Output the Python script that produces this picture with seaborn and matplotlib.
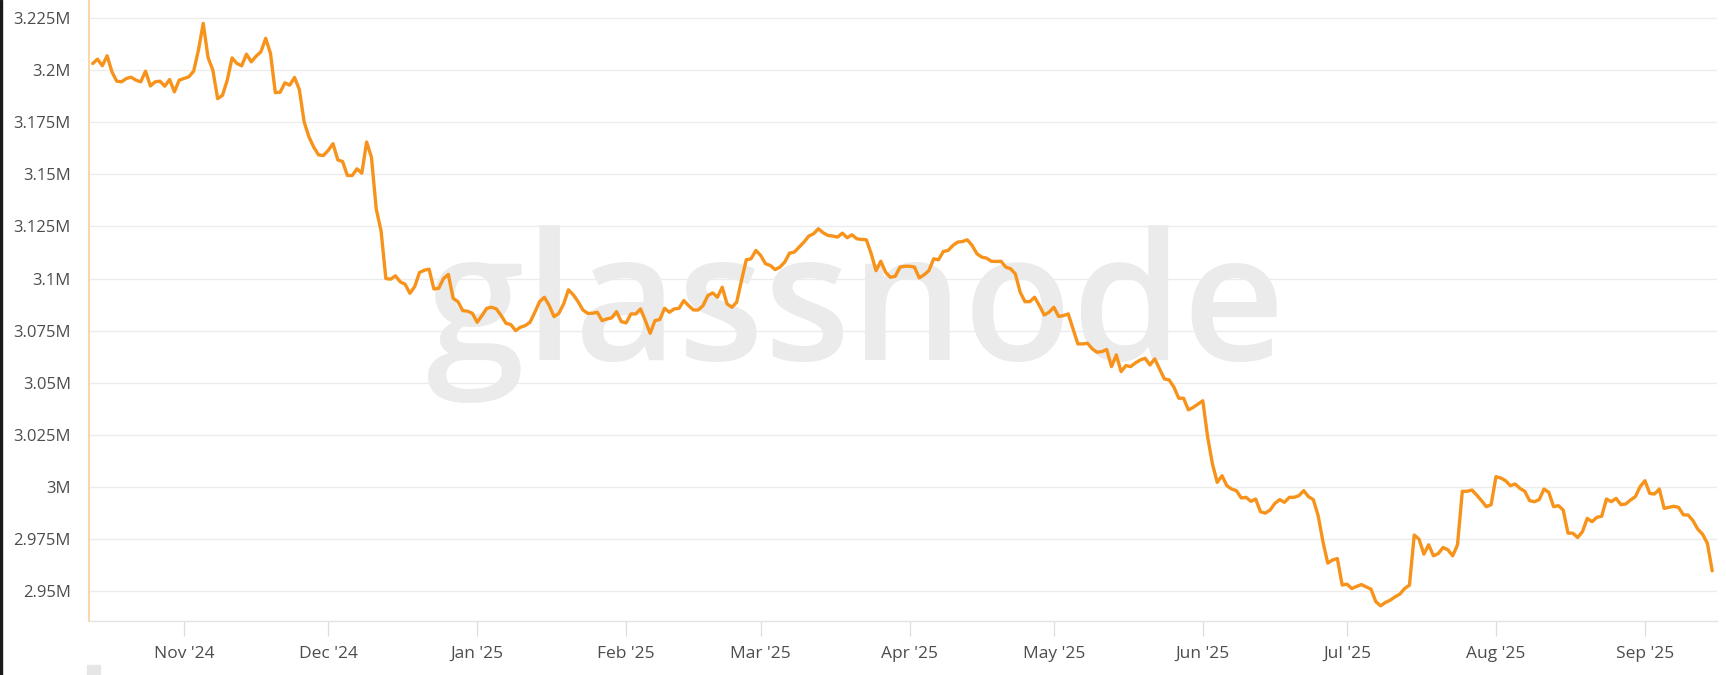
import matplotlib
matplotlib.use("Agg")
import matplotlib.pyplot as plt
import matplotlib.dates as mdates
from matplotlib.ticker import MultipleLocator, FuncFormatter
from matplotlib.patches import Rectangle
import seaborn as sns
import pandas as pd
import numpy as np

# Daily values in millions, starting 2024-10-13
start_date = "2024-10-13"
vals_oct24 = [3.2033, 3.2054, 3.2022, 3.2070, 3.1993, 3.1948, 3.1945, 3.1961, 3.1967, 3.1953,
              3.1945, 3.1996, 3.1925, 3.1945, 3.1948, 3.1924, 3.1956, 3.1897, 3.1953]
vals_nov24 = [3.1961, 3.1969, 3.1996, 3.2097, 3.2226, 3.2062, 3.2001, 3.1864, 3.1880, 3.1953,
              3.2060, 3.2033, 3.2022, 3.2078, 3.2041, 3.2068, 3.2089, 3.2154, 3.2081, 3.1893,
              3.1895, 3.1940, 3.1929, 3.1966, 3.1908, 3.1752, 3.1680, 3.1631, 3.1594, 3.1591]
vals_dec24 = [3.1615, 3.1648, 3.1570, 3.1562, 3.1495, 3.1495, 3.1527, 3.1506, 3.1656, 3.1583,
              3.1334, 3.1230, 3.1000, 3.0997, 3.1013, 3.0984, 3.0973, 3.0929, 3.0961, 3.1029,
              3.1040, 3.1045, 3.0950, 3.0953, 3.1000, 3.1020, 3.0905, 3.0889, 3.0846, 3.0843,
              3.0833]
vals_jan25 = [3.0790, 3.0822, 3.0857, 3.0862, 3.0854, 3.0822, 3.0785, 3.0779, 3.0750, 3.0766,
              3.0774, 3.0790, 3.0838, 3.0889, 3.0910, 3.0870, 3.0817, 3.0833, 3.0878, 3.0946,
              3.0922, 3.0889, 3.0849, 3.0833, 3.0833, 3.0838, 3.0798, 3.0806, 3.0811, 3.0841,
              3.0793]
vals_feb25 = [3.0787, 3.0830, 3.0830, 3.0854, 3.0798, 3.0737, 3.0798, 3.0803, 3.0857, 3.0838,
              3.0854, 3.0857, 3.0894, 3.0870, 3.0849, 3.0849, 3.0870, 3.0918, 3.0931, 3.0910,
              3.0958, 3.0878, 3.0862, 3.0886, 3.0990, 3.1090, 3.1095, 3.1135]
vals_mar25 = [3.1111, 3.1071, 3.1063, 3.1043, 3.1055, 3.1079, 3.1122, 3.1127, 3.1151, 3.1175,
              3.1204, 3.1215, 3.1239, 3.1220, 3.1207, 3.1204, 3.1199, 3.1218, 3.1196, 3.1210,
              3.1191, 3.1188, 3.1186, 3.1119, 3.1038, 3.1083, 3.1030, 3.1006, 3.1011, 3.1055,
              3.1059]
vals_apr25 = [3.1059, 3.1055, 3.1003, 3.1018, 3.1038, 3.1095, 3.1090, 3.1130, 3.1135, 3.1159,
              3.1175, 3.1178, 3.1186, 3.1159, 3.1119, 3.1103, 3.1098, 3.1083, 3.1082, 3.1083,
              3.1055, 3.1047, 3.1022, 3.0934, 3.0889, 3.0889, 3.0910, 3.0870, 3.0825, 3.0838]
vals_may25 = [3.0862, 3.0818, 3.0822, 3.0830, 3.0758, 3.0686, 3.0686, 3.0689, 3.0662, 3.0646,
              3.0649, 3.0659, 3.0577, 3.0633, 3.0553, 3.0582, 3.0577, 3.0595, 3.0609, 3.0617,
              3.0585, 3.0614, 3.0566, 3.0518, 3.0513, 3.0478, 3.0425, 3.0425, 3.0369, 3.0381,
              3.0397]
vals_jun25 = [3.0413, 3.0240, 3.0110, 3.0021, 3.0053, 3.0005, 2.9989, 2.9981, 2.9946, 2.9949,
              2.9930, 2.9941, 2.9880, 2.9873, 2.9888, 2.9920, 2.9938, 2.9925, 2.9949, 2.9949,
              2.9957, 2.9981, 2.9952, 2.9938, 2.9861, 2.9736, 2.9633, 2.9648, 2.9655, 2.9528]
vals_jul25 = [2.9532, 2.9511, 2.9521, 2.9530, 2.9519, 2.9508, 2.9448, 2.9428, 2.9444, 2.9455,
              2.9471, 2.9484, 2.9511, 2.9527, 2.9768, 2.9748, 2.9676, 2.9721, 2.9668, 2.9679,
              2.9708, 2.9697, 2.9668, 2.9721, 2.9978, 2.9978, 2.9984, 2.9960, 2.9933, 2.9904,
              2.9914]
vals_aug25 = [3.0048, 3.0042, 3.0029, 3.0005, 3.0013, 2.9992, 2.9978, 2.9933, 2.9928, 2.9938,
              2.9989, 2.9973, 2.9904, 2.9909, 2.9888, 2.9777, 2.9777, 2.9756, 2.9784, 2.9848,
              2.9832, 2.9853, 2.9858, 2.9941, 2.9928, 2.9944, 2.9914, 2.9917, 2.9936, 2.9952,
              3.0000]
vals_sep25 = [3.0029, 2.9968, 2.9965, 2.9989, 2.9896, 2.9901, 2.9906, 2.9901, 2.9865, 2.9864,
              2.9837, 2.9796, 2.9772, 2.9728, 2.9596]

values = (vals_oct24 + vals_nov24 + vals_dec24 + vals_jan25 + vals_feb25 + vals_mar25 +
          vals_apr25 + vals_may25 + vals_jun25 + vals_jul25 + vals_aug25 + vals_sep25)
dates = pd.date_range(start_date, periods=len(values), freq="D")
df = pd.DataFrame({"date": dates, "value": values})

sns.set_theme(style="white")
plt.rcParams["font.family"] = ["Open Sans", "DejaVu Sans"]

W, H = 1726, 675
fig = plt.figure(figsize=(W / 100, H / 100), dpi=100)
ax = fig.add_axes([89 / W, 1 - 621 / H, (1717 - 89) / W, 621 / H])

# watermark
ax.text(0.4707, 0.420, "glassnode", transform=ax.transAxes, ha="center", va="baseline",
        fontsize=128, color="#ebebeb", zorder=0, fontweight="semibold")

sns.lineplot(data=df, x="date", y="value", ax=ax, color="#F7931A", linewidth=2.4, zorder=3)

ax.set_xlim(pd.Timestamp("2024-10-12 05:30"), pd.Timestamp("2025-09-16"))
ax.set_ylim(2.9355, 3.2338)

ax.yaxis.set_major_locator(MultipleLocator(0.025))
ax.yaxis.set_major_formatter(FuncFormatter(lambda v, p: f"{round(v, 3):g}M"))
ax.xaxis.set_major_locator(mdates.MonthLocator())
ax.xaxis.set_major_formatter(mdates.DateFormatter("%b '%y"))

ax.yaxis.grid(True, color="#ececec", linewidth=1.0, zorder=1)
ax.xaxis.grid(False)
ax.set_axisbelow(True)
ax.set_xlabel("")
ax.set_ylabel("")

for s in ["top", "right"]:
    ax.spines[s].set_visible(False)
ax.spines["left"].set_color("#f9cf94")
ax.spines["left"].set_linewidth(1.2)
ax.spines["bottom"].set_color("#e4e4e4")
ax.spines["bottom"].set_linewidth(1.0)

ax.tick_params(axis="x", which="major", length=11, width=0.9, color="#dddddd",
               labelsize=12.5, labelcolor="#4d4d4d", pad=7, bottom=True)
ax.tick_params(axis="y", which="major", length=0, labelsize=12, labelcolor="#4d4d4d", pad=13)

# screenshot artifacts
fig.patches.append(Rectangle((0, 0), 2 / W, 1, transform=fig.transFigure, color="#1a1a1a", zorder=10))
fig.patches.append(Rectangle((87 / W, 0), 13 / W, 10 / H, transform=fig.transFigure, color="#e6e6e6", zorder=10))

fig.savefig("out.png", dpi=100)
